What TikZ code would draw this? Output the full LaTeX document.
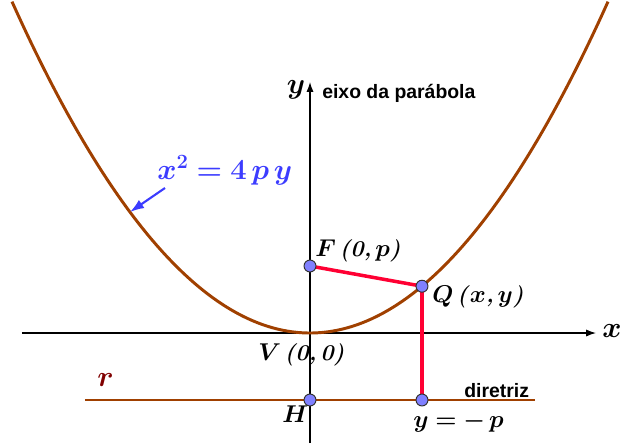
\documentclass[tikz,border=0pt]{standalone}
\usepackage{amsmath,amssymb,bm}
\usepackage{fontspec}
\usepackage{xcolor}
\usepackage{tikz}
\usetikzlibrary{arrows.meta, positioning, calc}

\newfontfamily\labelfont{Liberation Sans}
\newcommand{\bi}[1]{\textbf{\textit{#1}}}
\definecolor{curvebrown}{RGB}{160,64,0}
\definecolor{segred}{RGB}{255,0,51}
\definecolor{ptblue}{RGB}{128,128,255}
\definecolor{eqblue}{RGB}{60,60,255}
\definecolor{rred}{RGB}{128,0,0}

\begin{document}
\begin{tikzpicture}[
    x=0.025cm, y=0.025cm,
    axis/.style={-{Latex[length=7pt, width=5pt]}, line width=0.8pt, black},
    curve/.style={draw=curvebrown, line width=2.1pt},
    seg/.style={draw=segred, line width=2.5pt},
    pt/.style={circle, draw=black!80, fill=ptblue, line width=0.7pt, inner sep=0pt, minimum size=8.5pt},
    mlabel/.style={font=\fontsize{16}{18}\selectfont, inner sep=0pt, anchor=base west},
    tlabel/.style={font=\labelfont\bfseries\fontsize{13.8}{16}\selectfont, inner sep=0pt, anchor=base west},
    axlabel/.style={font=\fontsize{21}{24}\selectfont}
]
\useasboundingbox (-310,-110) rectangle (312,333);

% Axes
\coordinate (V) at (0,0);
\draw[axis] (-288,0) -- (286,0);
\draw[axis] (0,-110) -- (0,251);
\node[axlabel] (xlab) at (302,2) {$\bm{x}$};
\node[axlabel] (ylab) at (-14,243) {$\bm{y}$};
\node[tlabel] (eixo) at (12,235) {eixo da parábola};

% Parabola x^2 = 4py, p = 67
\draw[curve] plot[domain=-298:298, samples=120] (\x, {(\x/10)*(\x/10)/2.68});

% Directrix
\coordinate (rL) at (-225,-67);
\coordinate (rR) at (225,-67);
\draw[curve] (rL) -- (rR);
\node[font=\fontsize{20}{22}\selectfont, text=rred, inner sep=0pt, anchor=base west] (rlab) at (-213,-53) {$\bm{r}$};
\node[tlabel] (dir) at (154,-64) {diretriz};

% Equation label
\node[font=\fontsize{21.5}{25}\selectfont, text=eqblue, inner sep=0pt, anchor=base west] (eq) at (-153,154) {$\bm{x^2=4\,p\,y}$};
\coordinate (onC) at (-180,121);
\draw[-{Latex[length=10pt, width=7pt]}, draw=eqblue, line width=1.5pt] (-145,145) -- (onC);

% Focus, point on curve, projections
\coordinate (F) at (0,67);
\coordinate (Q) at (112,46.8);
\coordinate (H) at (0,-67);
\coordinate (P) at (112,-67);
\draw[seg] (F) -- (Q);
\draw[seg] (Q) -- (P);

\node[pt] (Fp) at (F) {};
\node[pt] (Qp) at (Q) {};
\node[pt] (Hp) at (H) {};
\node[pt] (Pp) at (P) {};

\node[mlabel] (Flab) at (5,77) {$\bm{F}$\,\bi{(0,}\,$\bm{p}$\bi{)}};
\node[mlabel] (Qlab) at (122,31) {$\bm{Q}$\,\bi{(}$\bm{x}$\bi{,}\,$\bm{y}$\bi{)}};
\node[mlabel] (Vlab) at (-52,-27) {$\bm{V}$\,\bi{(0,\,0)}};
\node[mlabel] (Hlab) at (-28,-89) {$\bm{H}$};
\node[mlabel] (Plab) at (103,-94) {$\bm{y=-\,p}$};

\end{tikzpicture}
\end{document}
